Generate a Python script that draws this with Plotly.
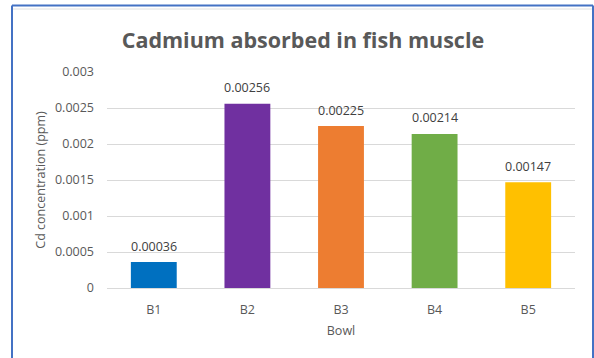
import plotly.graph_objects as go

categories = ["B1", "B2", "B3", "B4", "B5"]
values = [0.00036, 0.00256, 0.00225, 0.00214, 0.00147]
labels = ["0.00036", "0.00256", "0.00225", "0.00214", "0.00147"]
colors = ["#0070C0", "#7030A0", "#ED7D31", "#70AD47", "#FFC000"]
ytick_vals = [0, 0.0005, 0.001, 0.0015, 0.002, 0.0025, 0.003]
ytick_text = ["0", "0.0005", "0.001", "0.0015", "0.002", "0.0025", "0.003"]

W, H = 594, 358
L, R, T, B = 107, 19, 72, 70
pw, ph = W - L - R, H - T - B

def px(x):
    return (x - L) / pw

def py(y):
    return (H - B - y) / ph

fig = go.Figure()
fig.add_trace(go.Bar(
    x=categories, y=values, marker=dict(color=colors, line=dict(width=0)),
))

for c, v, t in zip(categories, values, labels):
    fig.add_annotation(x=c, y=v, text=t, showarrow=False, yanchor="middle", yshift=16,
                       font=dict(family="Open Sans", size=12.5, color="#404040"))

fig.update_layout(
    width=W, height=H,
    margin=dict(l=L, r=R, t=T, b=B),
    paper_bgcolor="white", plot_bgcolor="white",
    bargap=0.51,
    showlegend=False,
    font=dict(family="Open Sans", color="#595959"),
    title=dict(text="<b>Cadmium absorbed in fish muscle</b>", x=0.51, xanchor="center",
               y=1 - 40 / H, yanchor="middle",
               font=dict(family="Open Sans", size=21.5, color="#595959")),
    xaxis=dict(showgrid=False, showline=False, ticks="", ticklabelstandoff=12,
               tickfont=dict(size=12.5, color="#595959"),
               title=dict(text="Bowl", font=dict(size=12.5, color="#595959"), standoff=9)),
    yaxis=dict(range=[0, 0.003], tickvals=ytick_vals, ticktext=ytick_text,
               showgrid=True, gridcolor="#D9D9D9", gridwidth=1,
               zeroline=True, zerolinecolor="#D9D9D9", zerolinewidth=1,
               showline=False, ticks="", ticklabelstandoff=12,
               tickfont=dict(size=12.5, color="#595959"),
               title=dict(text="Cd concentration (ppm)", font=dict(size=12.5, color="#595959"), standoff=6)),
)

# outer frame lines (blue) and faint gray inner line
blue = "#4472C4"
fig.add_shape(type="line", xref="paper", yref="paper", x0=px(12), x1=px(12), y0=py(5.5), y1=py(400),
              line=dict(color=blue, width=2))
fig.add_shape(type="line", xref="paper", yref="paper", x0=px(12), x1=px(593), y0=py(5.5), y1=py(5.5),
              line=dict(color=blue, width=2))
fig.add_shape(type="line", xref="paper", yref="paper", x0=px(593), x1=px(593), y0=py(5.5), y1=py(400),
              line=dict(color=blue, width=2))
fig.add_shape(type="line", xref="paper", yref="paper", x0=px(13), x1=px(592), y0=py(9), y1=py(9),
              line=dict(color="#E0E0E0", width=1))

fig.write_html("out.html")
